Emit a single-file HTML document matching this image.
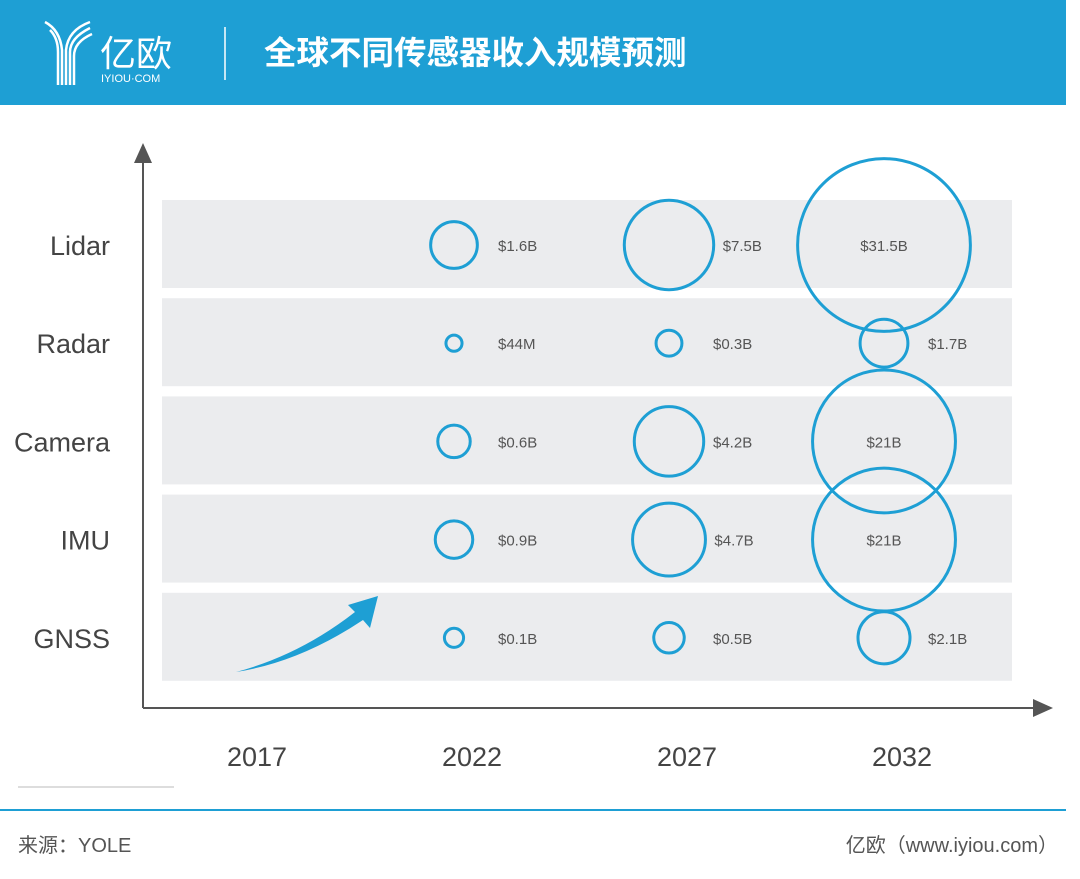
<!DOCTYPE html>
<html><head><meta charset="utf-8"><style>
body{margin:0;width:1080px;height:879px;background:#fff;overflow:hidden;font-family:"Liberation Sans","Noto Sans CJK SC",sans-serif}
#hdr{position:absolute;left:0;top:0;width:1066px;height:105px;background:#1e9fd4}
</style></head><body>
<div id="hdr"></div>
<svg width="1080" height="879" style="position:absolute;left:0;top:0">
<g stroke="#fff" fill="none" stroke-width="2.5">
<path d="M45 22 Q60 30 62 50 L62 85"/><path d="M50 30 Q58 38 58 52 L58 85"/>
<path d="M90 22 Q68 30 66 50 L66 85"/><path d="M90 28 Q70 38 70 52 L70 85"/><path d="M92 34 Q74 42 74 56 L74 85"/>
</g>
<text x="100" y="66" fill="#fff" font-size="36">亿欧</text>
<text x="101" y="82" fill="#fff" font-size="11">IYIOU·COM</text>
<line x1="225" y1="27" x2="225" y2="80" stroke="#fff" stroke-width="1.5"/>
<text x="264" y="64" fill="#fff" font-size="32.5" font-weight="bold">全球不同传感器收入规模预测</text>
<g id="plot"></g>
<line x1="143" y1="160" x2="143" y2="708" stroke="#555" stroke-width="2"/>
<polygon points="143,143 134,163 152,163" fill="#555"/>
<line x1="143" y1="708" x2="1035" y2="708" stroke="#555" stroke-width="2"/>
<polygon points="1053,708 1033,699 1033,717" fill="#555"/>
<path d="M236 672 Q300 655 355 612 L348 605 L378 596 L370 628 L363 620 Q300 662 236 672 Z" fill="#1e9fd4"/>
<line x1="18" y1="787" x2="174" y2="787" stroke="#bbb" stroke-width="1"/>
<line x1="0" y1="810" x2="1066" y2="810" stroke="#1e9fd4" stroke-width="2"/>
<text x="18" y="852" fill="#555" font-size="20">来源：YOLE</text>
<text x="1058" y="852" fill="#555" font-size="20" text-anchor="end">亿欧（www.iyiou.com）</text>
</svg>
<script>
const categories=["Lidar","Radar","Camera","IMU","GNSS"];
const years=["2017","2022","2027","2032"];
const values2022=[1.6,0.044,0.6,0.9,0.1];
const values2027=[7.5,0.3,4.2,4.7,0.5];
const values2032=[31.5,1.7,21,21,2.1];
const labels2022=["$1.6B","$44M","$0.6B","$0.9B","$0.1B"];
const labels2027=["$7.5B","$0.3B","$4.2B","$4.7B","$0.5B"];
const labels2032=["$31.5B","$1.7B","$21B","$21B","$2.1B"];
const NS="http://www.w3.org/2000/svg";
const g=document.getElementById('plot');
const xScale=i=>257+i*215;
const yScale=i=>245+i*98.2;
const rScale=v=>5+14.5*Math.sqrt(v);
function mk(t,a){const e=document.createElementNS(NS,t);for(const k in a)e.setAttribute(k,a[k]);g.appendChild(e);return e;}
categories.forEach((c,i)=>{
 const b=mk('rect',{x:162,y:yScale(i)-45,width:850,height:88,fill:'#ebecee'});
 
 
 const t=mk('text',{x:110,y:yScale(i)+10,'font-size':27,fill:'#444','text-anchor':'end'});t.textContent=c;
 
 
});
years.forEach((y,j)=>{
 const t=mk('text',{x:xScale(j),y:766,'font-size':27,fill:'#444','text-anchor':'middle'});t.textContent=y;
 
 
});
const series=[[values2022,labels2022],[values2027,labels2027],[values2032,labels2032]];
series.forEach(([vals,labs],s)=>{
 const cx=xScale(s+1)-18;
 vals.forEach((v,i)=>{
  const r=rScale(v);
  const c=mk('circle',{cx:cx,cy:yScale(i),r:r,fill:'none',stroke:'#1e9fd4','stroke-width':3});
  
  
  const inside=r>60;
  const lx=inside?cx:cx+Math.max(r,35)+9;
  const t=mk('text',{x:lx,y:yScale(i)+6,'font-size':15,fill:'#555','text-anchor':inside?'middle':'start'});
  t.textContent=labs[i];
  
  
 });
});
</script>
</body></html>
